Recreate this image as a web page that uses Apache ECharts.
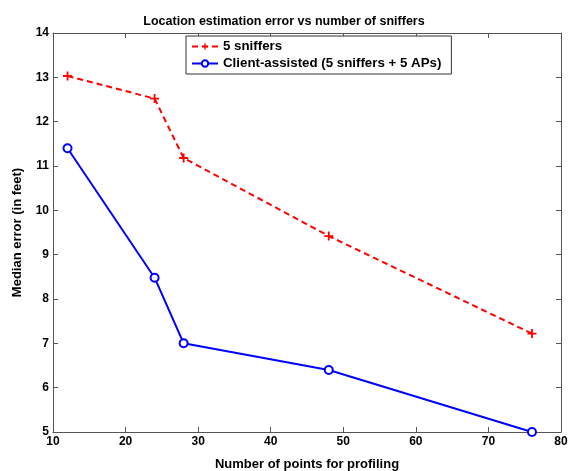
<!DOCTYPE html>
<html><head><meta charset="utf-8">
<script src="https://cdn.jsdelivr.net/npm/echarts@6/dist/echarts.min.js"></script>
<style>html,body{margin:0;padding:0;background:#fff}#c{width:568px;height:471px}</style>
</head><body><div id="c"></div>
<script>
const xPoints = [12, 24, 28, 48, 76];
const sniffers5 = [13.03, 12.52, 11.18, 9.42, 7.22];
const clientAssisted = [11.4, 8.48, 7.0, 6.4, 5.0];
const seriesNames = ['5 sniffers', 'Client-assisted (5 sniffers + 5 APs)'];

const chart = echarts.init(document.getElementById('c'));
const font = 'Liberation Sans, Arial, sans-serif';
const axisCol = '#555';
const plus = 'path://M4,0h2v4h4v2h-4v4h-2v-4h-4v-2h4z';
const ax = {
  axisLine: {show: true, lineStyle: {color: axisCol, width: 1}},
  axisTick: {show: true, inside: true, length: 5, lineStyle: {color: axisCol}},
  splitLine: {show: false}
};
chart.setOption({
  animation: false,
  title: {text: 'Location estimation error vs number of sniffers', left: 'center', top: 10,
    textStyle: {fontFamily: font, fontSize: 12.5, fontWeight: 'bold', color: '#000'}},
  grid: {left: 53, right: 7, top: 33, bottom: 39, containLabel: false, outerBoundsMode: 'none'},
  legend: {
    left: 186, top: 36, orient: 'vertical', itemGap: 4,
    itemWidth: 26, itemHeight: 8,
    borderColor: '#333', borderWidth: 1, padding: [4, 10, 4, 5], backgroundColor: '#fff',
    textStyle: {fontFamily: font, fontSize: 13.3, fontWeight: 'bold', color: '#000'},
    data: seriesNames
  },
  xAxis: [
    Object.assign({type: 'value', min: 10, max: 80, interval: 10, position: 'bottom',
      axisLabel: {fontFamily: font, fontSize: 12, fontWeight: 'bold', color: '#000', margin: 4},
      name: 'Number of points for profiling', nameLocation: 'middle', nameGap: 26,
      nameTextStyle: {fontFamily: font, fontSize: 13, fontWeight: 'bold', color: '#000'}}, ax),
    Object.assign({type: 'value', min: 10, max: 80, interval: 10, position: 'top',
      axisLabel: {show: false}}, ax)
  ],
  yAxis: [
    Object.assign({type: 'value', min: 5, max: 14, interval: 1, position: 'left',
      axisLabel: {fontFamily: font, fontSize: 12, fontWeight: 'bold', color: '#000', margin: 4},
      name: 'Median error (in feet)', nameLocation: 'middle', nameGap: 29,
      nameTextStyle: {fontFamily: font, fontSize: 13, fontWeight: 'bold', color: '#000'}}, ax),
    Object.assign({type: 'value', min: 5, max: 14, interval: 1, position: 'right',
      axisLabel: {show: false}}, ax)
  ],
  series: [
    {name: seriesNames[0], type: 'line', data: xPoints.map((x, i) => [x, sniffers5[i]]),
      symbol: plus, symbolSize: 9, itemStyle: {color: '#ff0000'},
      lineStyle: {color: '#ff0000', width: 2, type: [6, 4]}},
    {name: seriesNames[1], type: 'line', data: xPoints.map((x, i) => [x, clientAssisted[i]]),
      symbol: 'emptyCircle', symbolSize: 8, itemStyle: {color: '#0000ff', borderWidth: 2},
      lineStyle: {color: '#0000ff', width: 2}}
  ]
});
</script></body></html>
